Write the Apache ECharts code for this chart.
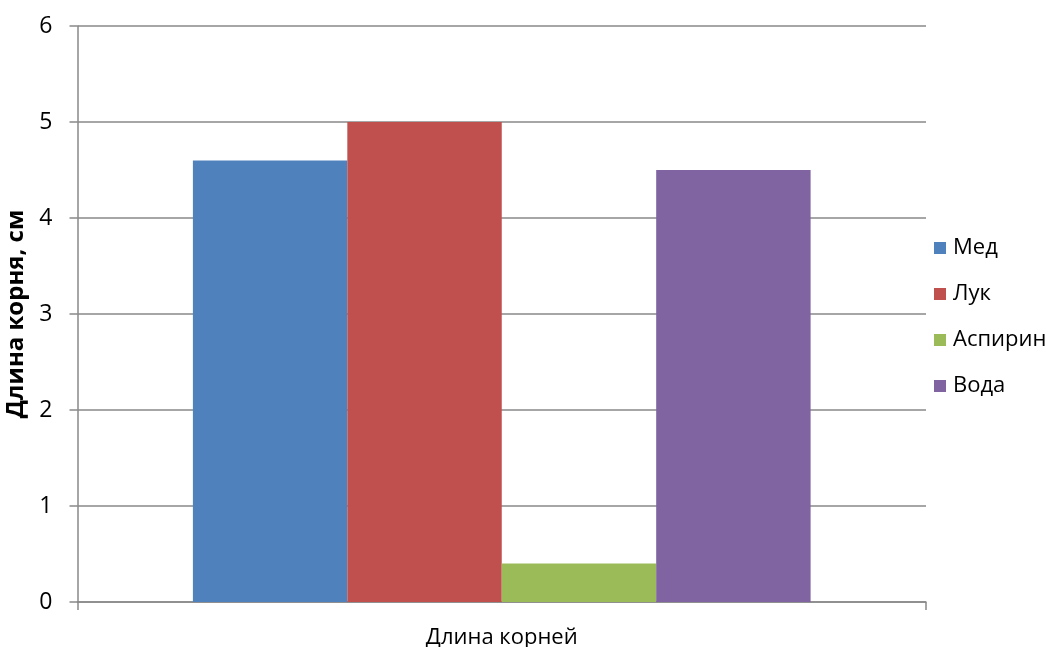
<!DOCTYPE html>
<html><head><meta charset="utf-8">
<script src="https://cdn.jsdelivr.net/npm/echarts@6/dist/echarts.min.js"></script>
<style>html,body{margin:0;padding:0;background:#fff}#c{width:1051px;height:647px}</style>
</head><body><div id="c"></div>
<script>
const categories = ['Длина корней'];
const seriesNames = ['Мед', 'Лук', 'Аспирин', 'Вода'];
const medValues = [4.6];
const lukValues = [5.0];
const aspirinValues = [0.4];
const vodaValues = [4.5];
const yTicks = [0, 1, 2, 3, 4, 5, 6];
const colors = ['#4F81BD', '#C0504D', '#9BBB59', '#8064A2'];
const allValues = [medValues, lukValues, aspirinValues, vodaValues];

const font = '"Open Sans", "Noto Sans", sans-serif';
const chart = echarts.init(document.getElementById('c'));
chart.setOption({
  animation: false,
  grid: { left: 77.5, right: 125, top: 26, bottom: 45, containLabel: false, outerBoundsMode: 'none' },
  legend: {
    orient: 'vertical', left: 929, top: 232,
    itemWidth: 12, itemHeight: 12, itemGap: 24,
    icon: 'rect',
    textStyle: { fontFamily: font, fontSize: 22, color: '#000', padding: [0,0,0,2] },
    data: seriesNames
  },
  xAxis: {
    type: 'category', data: categories,
    name: 'Длина корней', nameLocation: 'middle', nameGap: 25,
    nameTextStyle: { fontFamily: font, fontSize: 22, color: '#000' },
    axisLine: { lineStyle: { color: '#898989', width: 1.5 } },
    axisTick: { show: true, length: 8, lineStyle: { color: '#898989', width: 1.5 } },
    axisLabel: { show: false }
  },
  yAxis: {
    type: 'value', min: 0, max: 6, interval: 1,
    name: 'Длина корня, см', nameLocation: 'middle', nameGap: 47,
    nameTextStyle: { fontFamily: font, fontSize: 24, fontWeight: 'bold', color: '#000' },
    axisLine: { show: true, lineStyle: { color: '#898989', width: 1.5 } },
    axisTick: { show: true, length: 8, lineStyle: { color: '#898989', width: 1.5 } },
    axisLabel: { fontFamily: font, fontSize: 23, color: '#000', margin: 25,
      formatter: v => yTicks.includes(v) ? String(v) : '' },
    splitLine: { lineStyle: { color: '#898989', width: 1.5 } }
  },
  series: seriesNames.map((n, i) => ({
    name: n, type: 'bar', data: allValues[i],
    itemStyle: { color: colors[i] },
    barGap: '0%', barCategoryGap: '27.2%'
  }))
});
</script></body></html>
